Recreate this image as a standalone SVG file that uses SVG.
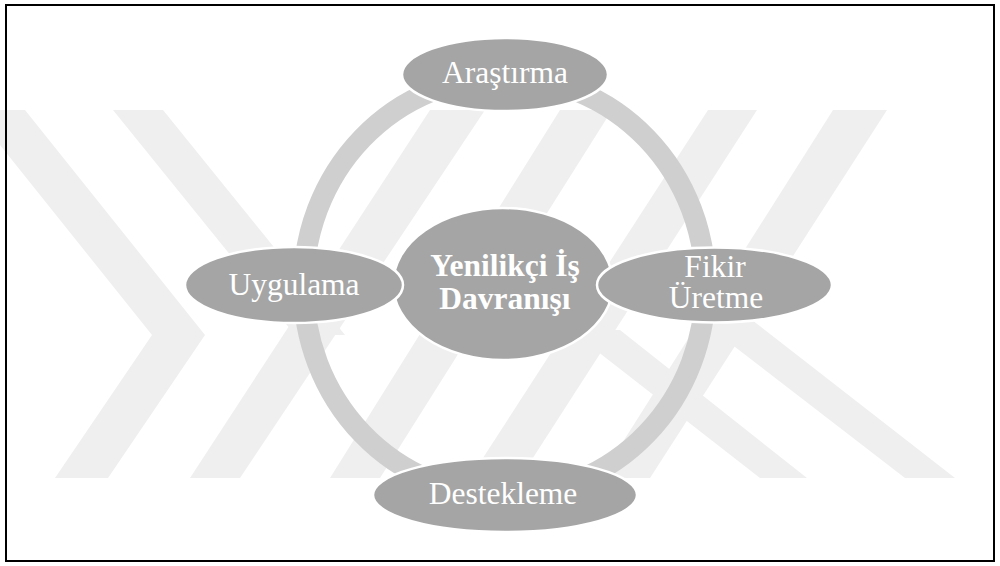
<svg xmlns="http://www.w3.org/2000/svg" width="1000" height="566" viewBox="0 0 1000 566">
  <style>
    .wm { fill: #efefef; }
    .node { fill: #a5a5a5; stroke: #ffffff; stroke-width: 2.5; }
    .lbl { font-family: "Liberation Serif", "Times New Roman", serif; font-size: 31.5px; fill: #ffffff; text-anchor: middle; }
    .bold { font-weight: bold; }
  </style>
  <rect x="0" y="0" width="1000" height="566" fill="#ffffff"/>
  <g id="watermark">
    <polygon class="wm" points="-28,110 25,110 205,335 108,478 55,478 152,335"/>
    <polygon class="wm" points="113,110 163,110 345,335 295,335"/>
    <polygon class="wm" points="430,110 485,110 240,478 190,478"/>
    <polygon class="wm" points="560,110 612,110 380,478 330,478"/>
    <polygon class="wm" points="708,110 757,110 520,478 470,478"/>
    <polygon class="wm" points="570,330 620,330 807,478 760,478"/>
    <polygon class="wm" points="833,110 887,110 650,478 600,478"/>
    <polygon class="wm" points="700,320 752,320 955,478 905,478"/>
  </g>
  <rect x="6" y="5" width="988" height="556" fill="none" stroke="#000000" stroke-width="2"/>
  <g id="connectors">
    <ellipse cx="504.5" cy="286" rx="201" ry="209" fill="none" stroke="#cfcfcf" stroke-width="21"/>
  </g>
  <g id="node-center">
    <ellipse class="node" cx="503" cy="284" rx="110" ry="76"/>
    <text class="lbl bold" x="505" y="276">Yenilikçi İş</text>
    <text class="lbl bold" x="505" y="309">Davranışı</text>
  </g>
  <g id="node-arastirma">
    <ellipse class="node" cx="505" cy="74.5" rx="103" ry="36.5"/>
    <text class="lbl" x="505" y="83">Araştırma</text>
  </g>
  <g id="node-fikir">
    <ellipse class="node" cx="714.5" cy="285" rx="117.5" ry="37.5"/>
    <text class="lbl" x="715" y="277">Fikir</text>
    <text class="lbl" x="716" y="308">Üretme</text>
  </g>
  <g id="node-destekleme">
    <ellipse class="node" cx="505" cy="495" rx="132" ry="37"/>
    <text class="lbl" x="503" y="504">Destekleme</text>
  </g>
  <g id="node-uygulama">
    <ellipse class="node" cx="294" cy="285" rx="109" ry="38"/>
    <text class="lbl" x="294" y="295">Uygulama</text>
  </g>
</svg>
